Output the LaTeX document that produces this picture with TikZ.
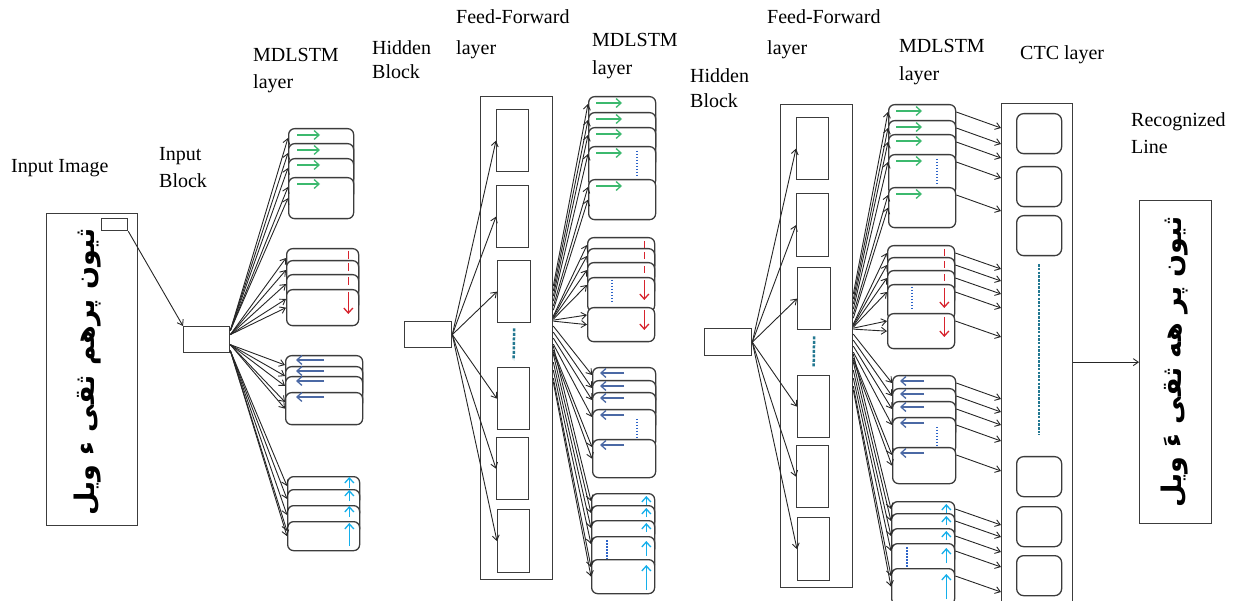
\documentclass[tikz,border=0pt]{standalone}
\usepackage{fontspec}
\setmainfont{Liberation Serif}
\newfontfamily\arabicfont[Script=Arabic]{DejaVu Sans}
\TeXXeTstate=1
\usetikzlibrary{arrows.meta,calc}
\definecolor{cgreen}{RGB}{60,185,110}
\definecolor{cred}{RGB}{215,35,45}
\definecolor{cblue}{RGB}{75,105,165}
\definecolor{ccyan}{RGB}{20,175,235}
\definecolor{cteal}{RGB}{35,120,145}
\definecolor{cdot}{RGB}{45,100,200}
\definecolor{edgec}{RGB}{60,60,60}
\newcommand\lblfont[1]{\fontsize{20}{#1}\selectfont}
\newcommand\lstmgroup[5]{%
  \foreach \t [count=\k] in {#5} {%
    \node[lstmbox, minimum width=#3, minimum height=#4] (#1K\k) at (#2,\t) {};
    \def\cur{#1K\k}%
    \grpsym
  }%
}
\begin{document}
\begin{tikzpicture}[x=1pt,y={(0,-1pt)},
  lbl/.style={anchor=north west, inner sep=0, align=left},
  lstmbox/.style={draw=edgec, line width=1.3pt, fill=white, rounded corners=6pt, inner sep=0, anchor=north west},
  plainbox/.style={draw=edgec, line width=1.3pt, fill=white, inner sep=0, anchor=north west},
  ctcbox/.style={draw=edgec, line width=1.3pt, fill=white, rounded corners=7pt, inner sep=0, anchor=north west, minimum width=45, minimum height=40},
  urdu/.style={rotate=90, inner sep=0, font=\arabicfont\bfseries\fontsize{27}{27}\selectfont},
  arr/.style={draw=black!85, line width=0.9pt, -{Straight Barb[length=5pt,width=7pt]}},
  garr/.style={draw=cgreen, line width=1.3pt, -{Straight Barb[length=5pt,width=9pt]}},
  rarr/.style={draw=cred, line width=1.3pt, -{Straight Barb[length=5pt,width=9pt]}},
  rline/.style={draw=cred, line width=1.3pt},
  barr/.style={draw=cblue, line width=1.3pt, -{Straight Barb[length=5pt,width=9pt]}},
  carr/.style={draw=ccyan, line width=1.3pt, -{Straight Barb[length=5pt,width=9pt]}},
  dotl/.style={draw=cdot, line width=1.5pt, dash pattern=on 1.5pt off 1.5pt},
  tdash/.style={draw=cteal, line width=2.5pt, dash pattern=on 3pt off 1.5pt},
  ctcdash/.style={draw=cteal, line width=2.2pt, dash pattern=on 2.5pt off 1.2pt}]
\useasboundingbox (0,0) rectangle (1240,601);

% ---------- labels ----------
\node[lbl, font={\lblfont{27}}] (tInImg) at (11,159) {Input Image};
\node[lbl, font={\lblfont{27}}] (tInBlk) at (159,147) {Input\\Block};
\node[lbl, font={\lblfont{27}}] (tMd1) at (253,48) {MDLSTM\\layer};
\node[lbl, font={\lblfont{24}}] (tHb1) at (372,40) {Hidden\\Block};
\node[lbl, font={\lblfont{31}}] (tFf1) at (456,9) {Feed-Forward\\layer};
\node[lbl, font={\lblfont{28}}] (tMd2) at (592,33) {MDLSTM\\layer};
\node[lbl, font={\lblfont{25}}] (tHb2) at (690,68) {Hidden\\Block};
\node[lbl, font={\lblfont{31}}] (tFf2) at (767,9) {Feed-Forward\\layer};
\node[lbl, font={\lblfont{28}}] (tMd3) at (899,39) {MDLSTM\\layer};
\node[lbl, font={\lblfont{27}}] (tCtc) at (1020,45) {CTC layer};
\node[lbl, font={\lblfont{27}}] (tRec) at (1131,112) {Recognized\\Line};

% ---------- input image ----------
\node[plainbox, minimum width=91, minimum height=312] (iimg) at (46,213) {};
\node[plainbox, minimum width=26, minimum height=12] (sr) at (101,218) {};
\node[urdu] (iimgtxt) at (88,372) {\beginR ثیون پرھم ثقی ء ویل\endR};
\node[plainbox, minimum width=46, minimum height=26] (inb) at (183,326) {};
\draw[arr] (sr.south east) -- (inb.north west);

% ---------- MDLSTM layer 1 ----------
\def\grpsym{\draw[garr] ([xshift=9pt,yshift=-7pt]\cur.north west) -- ++(23,0);}
\lstmgroup{L1G1}{288}{65}{41}{128,143,158,177}
\def\grpsym{\ifnum\k<4 \draw[rline] ([xshift=-11pt,yshift=-3pt]\cur.north east) -- ++(0,8);
  \else \draw[rarr] ([xshift=-11pt,yshift=-3pt]\cur.north east) -- ++(0,22); \fi}
\lstmgroup{L1G2}{286}{72}{36}{248,260,274,289}
\def\grpsym{\draw[barr] ([xshift=39pt,yshift=-5pt]\cur.north west) -- ++(-28,0);}
\lstmgroup{L1G3}{285}{77}{32}{355,366,376,392}
\def\grpsym{\ifnum\k<4 \draw[carr] ([xshift=-11pt,yshift=-12pt]\cur.north east) -- ++(0,-11);
  \else \draw[carr] ([xshift=-11pt,yshift=-25pt]\cur.north east) -- ++(0,-23); \fi}
\lstmgroup{L1G4}{287}{72}{29}{476,489,505,521}
\foreach \g/\s in {1/9,2/5,3/-5,4/-11} {
  \foreach \k in {1,2,3,4} {\draw[arr] ([yshift=\s pt]inb.east) -- ([yshift=-10pt]L1G\g K\k.north west);}
  \draw[arr] ([yshift=\s pt]inb.east) -- (L1G\g K4.west);
}

% ---------- hidden block 1 and feed-forward layer 1 ----------
\node[plainbox, minimum width=47, minimum height=26] (hb1) at (404,321) {};
\node[plainbox, minimum width=72, minimum height=483] (ff1) at (480,96) {};
\foreach \i/\x/\y/\w/\h in {1/496/109/32/62,2/496/185/32/62,3/497/260/33/62,4/497/367/32/62,5/496/437/32/62,6/497/509/32/63}
  \node[plainbox, minimum width=\w, minimum height=\h] (f1r\i) at (\x,\y) {};
\draw[tdash] ([yshift=-5pt]f1r3.south) -- ([yshift=7pt]f1r4.north);
\foreach \i in {1,...,6} \draw[arr] (hb1.east) -- (f1r\i.west);

% ---------- MDLSTM layer 2 ----------
\def\grpsym{\draw[garr] ([xshift=8pt,yshift=-7pt]\cur.north west) -- ++(26,0);
  \ifnum\k=4 \draw[dotl] ([xshift=49pt,yshift=-5pt]\cur.north west) -- ++(0,27); \fi}
\lstmgroup{L2G1}{588}{67}{40}{96,112,127,146,179}
\def\grpsym{\ifnum\k<4 \draw[rline] ([xshift=-11pt,yshift=-4pt]\cur.north east) -- ++(0,7);
  \else \draw[rarr] ([xshift=-11pt,yshift=-3pt]\cur.north east) -- ++(0,20); \fi
  \ifnum\k=4 \draw[dotl] ([xshift=25pt,yshift=-3pt]\cur.north west) -- ++(0,24); \fi}
\lstmgroup{L2G2}{587}{67}{34}{237,248,262,277,307}
\def\grpsym{\draw[barr] ([xshift=32pt,yshift=-6pt]\cur.north west) -- ++(-24,0);
  \ifnum\k=4 \draw[dotl] ([xshift=45pt,yshift=-10pt]\cur.north west) -- ++(0,19); \fi}
\lstmgroup{L2G3}{592}{63}{38}{367,380,392,409,439}
\def\grpsym{\ifnum\k<4 \draw[carr] ([xshift=-9pt,yshift=-12pt]\cur.north east) -- ++(0,-9); \fi
  \ifnum\k=4 \draw[carr] ([xshift=-9pt,yshift=-20pt]\cur.north east) -- ++(0,-15);
    \draw[dotl] ([xshift=16pt,yshift=-4pt]\cur.north west) -- ++(0,20); \fi
  \ifnum\k=5 \draw[carr] ([xshift=-9pt,yshift=-31pt]\cur.north east) -- ++(0,-25); \fi}
\lstmgroup{L2G4}{591}{63}{34}{493,505,520,536,559}
\foreach \g/\ss in {1/{52,47,42,37,32,28},2/{22,21,20,19,18,17},3/{12,6,0,-6,-12,-14},4/{-8,-16,-24,-32,-40,-44}} {
  \foreach \s [count=\k] in \ss {
    \ifnum\k<6
      \draw[arr] ([yshift=\s pt]ff1.east) -- ([yshift=-8pt]L2G\g K\k.north west);
    \else
      \draw[arr] ([yshift=\s pt]ff1.east) -- (L2G\g K5.west);
    \fi
  }
}

% ---------- hidden block 2 and feed-forward layer 2 ----------
\node[plainbox, minimum width=47, minimum height=27] (hb2) at (704,328) {};
\node[plainbox, minimum width=72, minimum height=483] (ff2) at (780,104) {};
\foreach \i/\x/\y/\w/\h in {1/796/117/32/62,2/796/193/32/63,3/797/267/33/62,4/797/375/32/62,5/796/445/32/62,6/797/517/32/63}
  \node[plainbox, minimum width=\w, minimum height=\h] (f2r\i) at (\x,\y) {};
\draw[tdash] ([yshift=-6pt]f2r3.south) -- ([yshift=8pt]f2r4.north);
\foreach \i in {1,...,6} \draw[arr] (hb2.east) -- (f2r\i.west);

% ---------- MDLSTM layer 3 ----------
\def\grpsym{\draw[garr] ([xshift=8pt,yshift=-7pt]\cur.north west) -- ++(26,0);
  \ifnum\k=4 \draw[dotl] ([xshift=49pt,yshift=-5pt]\cur.north west) -- ++(0,27); \fi}
\lstmgroup{L3G1}{888}{67}{40}{104,120,134,154,187}
\def\grpsym{\ifnum\k<4 \draw[rline] ([xshift=-11pt,yshift=-4pt]\cur.north east) -- ++(0,7);
  \else \draw[rarr] ([xshift=-11pt,yshift=-4pt]\cur.north east) -- ++(0,20); \fi
  \ifnum\k=4 \draw[dotl] ([xshift=25pt,yshift=-3pt]\cur.north west) -- ++(0,24); \fi}
\lstmgroup{L3G2}{887}{67}{35}{245,257,270,284,313}
\def\grpsym{\draw[barr] ([xshift=32pt,yshift=-6pt]\cur.north west) -- ++(-24,0);
  \ifnum\k=4 \draw[dotl] ([xshift=45pt,yshift=-10pt]\cur.north west) -- ++(0,19); \fi}
\lstmgroup{L3G3}{892}{63}{36}{375,388,401,417,447}
\def\grpsym{\ifnum\k<4 \draw[carr] ([xshift=-9pt,yshift=-12pt]\cur.north east) -- ++(0,-9); \fi
  \ifnum\k=4 \draw[carr] ([xshift=-9pt,yshift=-20pt]\cur.north east) -- ++(0,-15);
    \draw[dotl] ([xshift=16pt,yshift=-4pt]\cur.north west) -- ++(0,20); \fi
  \ifnum\k=5 \draw[carr] ([xshift=-9pt,yshift=-31pt]\cur.north east) -- ++(0,-25); \fi}
\lstmgroup{L3G4}{891}{63}{36}{501,513,528,543,568}
\foreach \g/\ss in {1/{52,47,42,37,32,28},2/{22,21,20,19,18,17},3/{12,6,0,-6,-12,-14},4/{-8,-16,-24,-32,-40,-44}} {
  \foreach \s [count=\k] in \ss {
    \ifnum\k<6
      \draw[arr] ([yshift=\s pt]ff2.east) -- ([yshift=-8pt]L3G\g K\k.north west);
    \else
      \draw[arr] ([yshift=\s pt]ff2.east) -- (L3G\g K5.west);
    \fi
  }
}

% ---------- CTC layer ----------
\node[plainbox, minimum width=71, minimum height=510] (ctc) at (1001,103) {};
\foreach \i/\y in {1/113,2/166,3/215,4/456,5/506,6/555}
  \node[ctcbox] (c\i) at (1016,\y) {};
\draw[ctcdash] ([yshift=-8pt]c3.south) -- ([yshift=21pt]c4.north);
\foreach \g in {1,...,4} {
  \foreach \k in {1,...,5} {
    \path (L3G\g K\k.north east) ++(0,24) coordinate (ctcend);
    \draw[arr] ([yshift=-8pt]L3G\g K\k.north east) -- (ctcend -| ctc.west);
  }
}

% ---------- recognized line ----------
\node[plainbox, minimum width=72, minimum height=323] (rec) at (1139,200) {};
\node[urdu] (rectxt) at (1175,362) {\beginR ثیون پر ھه ثقی ءَ ویل\endR};
\draw[arr] (rec.west -| ctc.east) -- (rec.west);
\end{tikzpicture}
\end{document}
